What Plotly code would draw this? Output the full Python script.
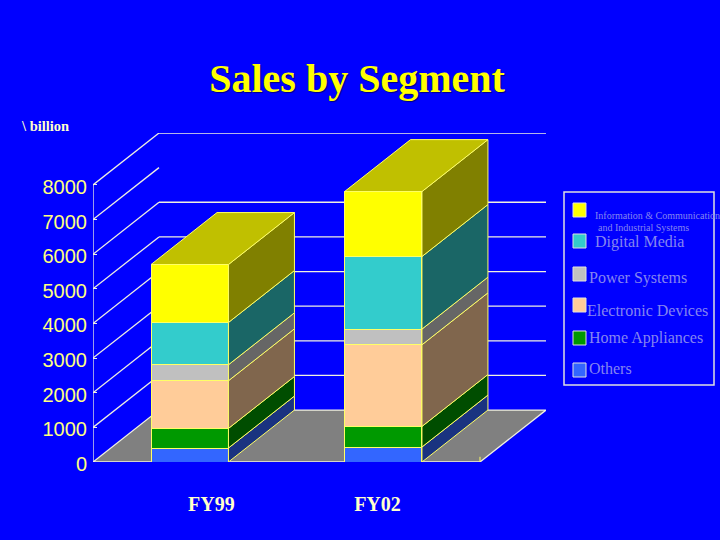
import plotly.graph_objects as go

categories = ['FY99', 'FY02']
category_pos = [0, 1]

others = [404, 433]
home_appliances = [566, 594]
electronic_devices = [1376, 2358]
power_systems = [462, 453]
digital_media = [1221, 2096]
info_comm = [1674, 1875]

y_ticks = [0, 1000, 2000, 3000, 4000, 5000, 6000, 7000, 8000]
wall_lines = [1000, 2000, 3000, 4000, 5000, 6000, 8000]
legend_labels = ['Information & Communication', 'and Industrial Systems', 'Digital Media',
                 'Power Systems', 'Electronic Devices', 'Home Appliances', 'Others']

# bottom to top: values, front colour, side colour
stack = [
    (others, '#3366ff', '#1a3380'),
    (home_appliances, '#009900', '#004d00'),
    (electronic_devices, '#ffcc99', '#80664d'),
    (power_systems, '#c0c0c0', '#666666'),
    (digital_media, '#33cccc', '#1a6666'),
    (info_comm, '#ffff00', '#808000'),
]
top_color = '#c0c000'

bar_width = 0.4
depth_x = 0.341
depth_y = 1500
x_left, x_right = -0.5, 1.5
edge = '#ffff66'
wall = '#f0f0e0'

L, R, T, B = 93, 174, 133, 78


def px(x):
    return (x - L) / (720 - L - R)


def py(y):
    return 1 - (y - T) / (540 - T - B)


fig = go.Figure()

shapes = []
# floor
shapes.append(dict(type='path', layer='below', xref='x', yref='y', fillcolor='#808080',
                   line=dict(color=wall, width=1.3),
                   path=f'M {x_left} 0 L {x_right} 0 L {x_right + depth_x} {depth_y} '
                        f'L {x_left + depth_x} {depth_y} Z'))
# left axis and the diagonals going back
shapes.append(dict(type='line', layer='below', xref='x', yref='y', x0=x_left, x1=x_left, y0=0, y1=8000,
                   line=dict(color=wall, width=1.3)))
for v in y_ticks[1:]:
    shapes.append(dict(type='line', layer='below', xref='x', yref='y', x0=x_left, y0=v,
                       x1=x_left + depth_x, y1=v + depth_y, line=dict(color=wall, width=1.3)))
for v in wall_lines:
    shapes.append(dict(type='line', layer='below', xref='x', yref='y', x0=x_left + depth_x, y0=v + depth_y,
                       x1=x_right + depth_x, y1=v + depth_y, line=dict(color=wall, width=1.3)))
# little tick where the floor ends
shapes.append(dict(type='line', layer='below', xref='x', yref='y', x0=x_right, x1=x_right, y0=0, y1=150,
                   line=dict(color=edge, width=1)))

# front faces
for values, front, side in stack:
    fig.add_trace(go.Bar(x=category_pos, y=values, width=bar_width, marker_color=front,
                         marker_line=dict(color=edge, width=1)))

# side and top faces
for i, pos in enumerate(category_pos):
    x0 = pos - bar_width / 2
    x1 = pos + bar_width / 2
    base = 0
    for values, front, side in stack:
        top = base + values[i]
        fig.add_trace(go.Scatter(x=[x1, x1 + depth_x, x1 + depth_x, x1, x1],
                                 y=[base, base + depth_y, top + depth_y, top, base],
                                 mode='lines', fill='toself', fillcolor=side,
                                 line=dict(color=edge, width=1)))
        base = top
    fig.add_trace(go.Scatter(x=[x0, x1, x1 + depth_x, x0 + depth_x, x0],
                             y=[base, base, base + depth_y, base + depth_y, base],
                             mode='lines', fill='toself', fillcolor=top_color,
                             line=dict(color=edge, width=1)))

# legend box
shapes.append(dict(type='rect', xref='paper', yref='paper', x0=px(564), x1=px(714), y0=py(385), y1=py(192),
                   line=dict(color='#e0e0e0', width=1.5)))
swatch_tops = [203, 234, 267, 298, 331, 363]
swatch_colors = [s[1] for s in reversed(stack)]
for top, color in zip(swatch_tops, swatch_colors):
    shapes.append(dict(type='rect', xref='paper', yref='paper', x0=px(573), x1=px(586), y0=py(top + 14), y1=py(top),
                       fillcolor=color, line=dict(color='#e0e0e0', width=1)))

annotations = []
legend_pos = [(593, 215, 10), (596, 227, 10), (593, 242, 16), (587, 278, 16),
              (585, 310, 16), (587, 338, 16), (587, 368, 16)]
for label, (x, y, size) in zip(legend_labels, legend_pos):
    annotations.append(dict(text=label, xref='paper', yref='paper', x=px(x), y=py(y), xanchor='left',
                            yanchor='middle', showarrow=False,
                            font=dict(family='Liberation Serif', size=size, color='#8585f0')))
annotations.append(dict(text='\\ billion', xref='paper', yref='paper', x=px(19), y=py(126), xanchor='left',
                        yanchor='middle', showarrow=False,
                        font=dict(family='Liberation Serif', size=14.5, color='#ffffcc', weight='bold')))

fig.update_layout(
    width=720, height=540,
    margin=dict(l=L, r=R, t=T, b=B),
    paper_bgcolor='#0000ff',
    plot_bgcolor='#0000ff',
    barmode='stack',
    showlegend=False,
    title=dict(text='Sales by Segment', x=357 / 720, xanchor='center', y=1 - 78 / 540, yanchor='middle',
               font=dict(family='Liberation Serif', size=40, color='#ffff00', weight='bold',
                         shadow='1px 1px 1px #000080')),
    shapes=shapes,
    annotations=annotations,
)
fig.update_xaxes(range=[x_left, x_right + depth_x], showgrid=False, zeroline=False, showline=False,
                 tickvals=[0.112, 0.97], ticktext=categories, ticks='', ticklabelstandoff=28,
                 tickfont=dict(family='Liberation Serif', size=20, color='#ffffcc', weight='bold'))
fig.update_yaxes(range=[0, 8000 + depth_y], showgrid=False, zeroline=False, showline=False,
                 tickvals=y_ticks, ticks='inside', ticklen=4, tickcolor=wall, ticklabelstandoff=5,
                 ticklabelshift=2,
                 tickfont=dict(family='Liberation Sans', size=20, color='#ffff80'))

fig.write_html('out.html', config={'displayModeBar': False}, post_script="document.body.style.margin='0';")
